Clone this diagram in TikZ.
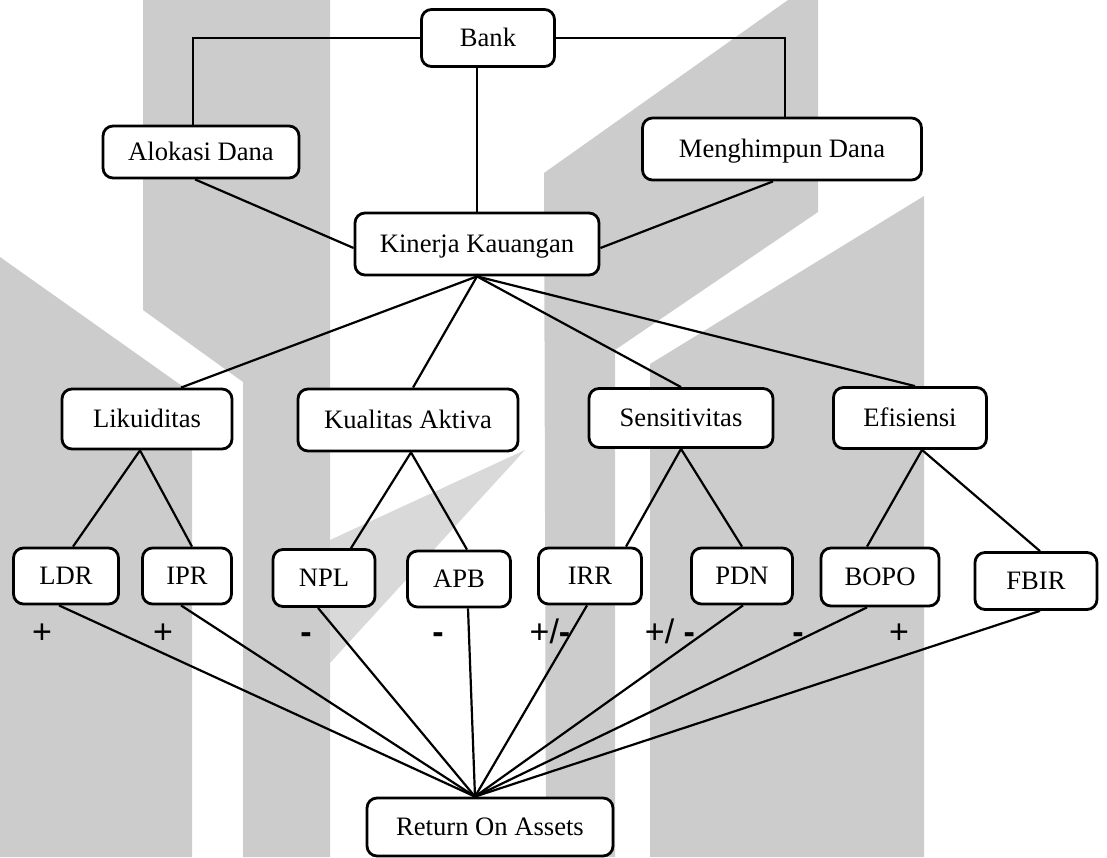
\documentclass[tikz,border=0pt]{standalone}
\usepackage{fontspec}
\setmainfont{Liberation Serif}
\setsansfont{Liberation Sans}
\begin{document}
\begin{tikzpicture}[x=0.5pt,y=-0.5pt,
  box/.style={draw,line width=1.4pt,rounded corners=5pt,fill=white,inner sep=0pt,text height=8.8pt,text depth=0pt,font=\fontsize{13.3}{16}\selectfont},
  link/.style={line width=1.1pt},
  sign/.style={inner sep=0pt,anchor=base,font=\sffamily\fontsize{17}{20}\selectfont}]
\useasboundingbox (0,0) rectangle (1107,857);
% background watermark
\fill[gray!40] (0,257) -- (192,393) -- (192,857) -- (0,857) -- cycle;
\fill[gray!40] (143,0) -- (330,0) -- (330,857) -- (243,857) -- (243,382) -- (143,310) -- cycle;
\fill[gray!30] (330,540) -- (525,450) -- (330,663) -- cycle;
\fill[gray!40] (544,173) -- (788,0) -- (818,0) -- (818,212) -- (615,350) -- (615,857) -- (546,857) -- cycle;
\fill[gray!40] (924,196) -- (924,857) -- (650,857) -- (650,364) -- cycle;
% boxes
\node[box,minimum width=66.5pt,minimum height=28.5pt] (bank) at (488,38) {Bank};
\node[box,minimum width=98pt,minimum height=26pt] (alokasi) at (201,152) {Alokasi Dana};
\node[box,minimum width=139.5pt,minimum height=31pt] (menghimpun) at (782,149) {Menghimpun Dana};
\node[box,minimum width=122pt,minimum height=31pt] (kinerja) at (477,244) {Kinerja Kauangan};
\node[box,minimum width=85pt,minimum height=30pt] (likuiditas) at (147,419) {Likuiditas};
\node[box,minimum width=110pt,minimum height=31pt] (kualitas) at (408,420) {Kualitas Aktiva};
\node[box,minimum width=92pt,minimum height=29.5pt] (sensitivitas) at (681,418) {Sensitivitas};
\node[box,minimum width=76.5pt,minimum height=30.5pt] (efisiensi) at (910,418) {Efisiensi};
\node[box,minimum width=52.5pt,minimum height=28pt] (ldr) at (66,576) {LDR};
\node[box,minimum width=44.5pt,minimum height=28pt] (ipr) at (187,576) {IPR};
\node[box,minimum width=51pt,minimum height=28.5pt] (npl) at (324,578) {NPL};
\node[box,minimum width=51.5pt,minimum height=28pt] (apb) at (459,579) {APB};
\node[box,minimum width=51.5pt,minimum height=28pt] (irr) at (590,576) {IRR};
\node[box,minimum width=50.5pt,minimum height=28pt] (pdn) at (742,576) {PDN};
\node[box,minimum width=59pt,minimum height=29pt] (bopo) at (880,577) {BOPO};
\node[box,minimum width=61pt,minimum height=28.5pt] (fbir) at (1036,581) {FBIR};
\node[box,minimum width=123pt,minimum height=29pt] (roa) at (490,827) {Return On Assets};
\coordinate (roatop) at ([xshift=-7.5pt]roa.north);
% links from the bank
\draw[link] (bank.west) -| ([xshift=-4pt]alokasi.north);
\draw[link] (bank.east) -| ([xshift=1.5pt]menghimpun.north);
\draw[link] (bank.south -| kinerja.north) -- (kinerja.north);
\draw[link] ([xshift=-3pt]alokasi.south) -- ([yshift=-2pt]kinerja.west);
\draw[link] ([xshift=-4.5pt]menghimpun.south) -- ([yshift=-2pt]kinerja.east);
% aspects of performance
\draw[link] (kinerja.south) -- ([xshift=17pt]likuiditas.north);
\draw[link] (kinerja.south) -- ([xshift=2.5pt]kualitas.north);
\draw[link] (kinerja.south) -- (sensitivitas.north);
\draw[link] (kinerja.south) -- ([xshift=2.5pt]efisiensi.north);
\draw[link] ([xshift=-3.5pt]likuiditas.south) -- ([xshift=3.5pt]ldr.north);
\draw[link] ([xshift=-3.5pt]likuiditas.south) -- ([xshift=2.5pt]ipr.north);
\draw[link] ([xshift=1.5pt]kualitas.south) -- ([xshift=13.5pt]npl.north);
\draw[link] ([xshift=1.5pt]kualitas.south) -- ([xshift=4pt]apb.north);
\draw[link] (sensitivitas.south) -- ([xshift=18pt]irr.north);
\draw[link] (sensitivitas.south) -- (pdn.north);
\draw[link] ([xshift=6pt]efisiensi.south) -- ([xshift=-6.5pt]bopo.north);
\draw[link] ([xshift=6pt]efisiensi.south) -- ([xshift=2pt]fbir.north);
% ratios to ROA
\foreach \n/\s in {ldr/-3.5,ipr/-3,npl/-3,apb/4.5,irr/-1.5,pdn/0.5,bopo/-6.5,fbir/2}
  \draw[link] ([xshift=\s pt]\n.south) -- (roatop);
% signs
\node[sign] (sldr) at (42,643) {+};
\node[sign] (sipr) at (163,643) {+};
\node[sign] (snpl) at (306,643) {\textbf{-}};
\node[sign] (sapb) at (438,643) {\textbf{-}};
\node[sign] (sirr) at (550,643) {+/\textbf{-}};
\node[sign] (spdn) at (670,643) {+/ \textbf{-}};
\node[sign] (sbopo) at (798,643) {\textbf{-}};
\node[sign] (sfbir) at (899,643) {+};
\end{tikzpicture}
\end{document}
